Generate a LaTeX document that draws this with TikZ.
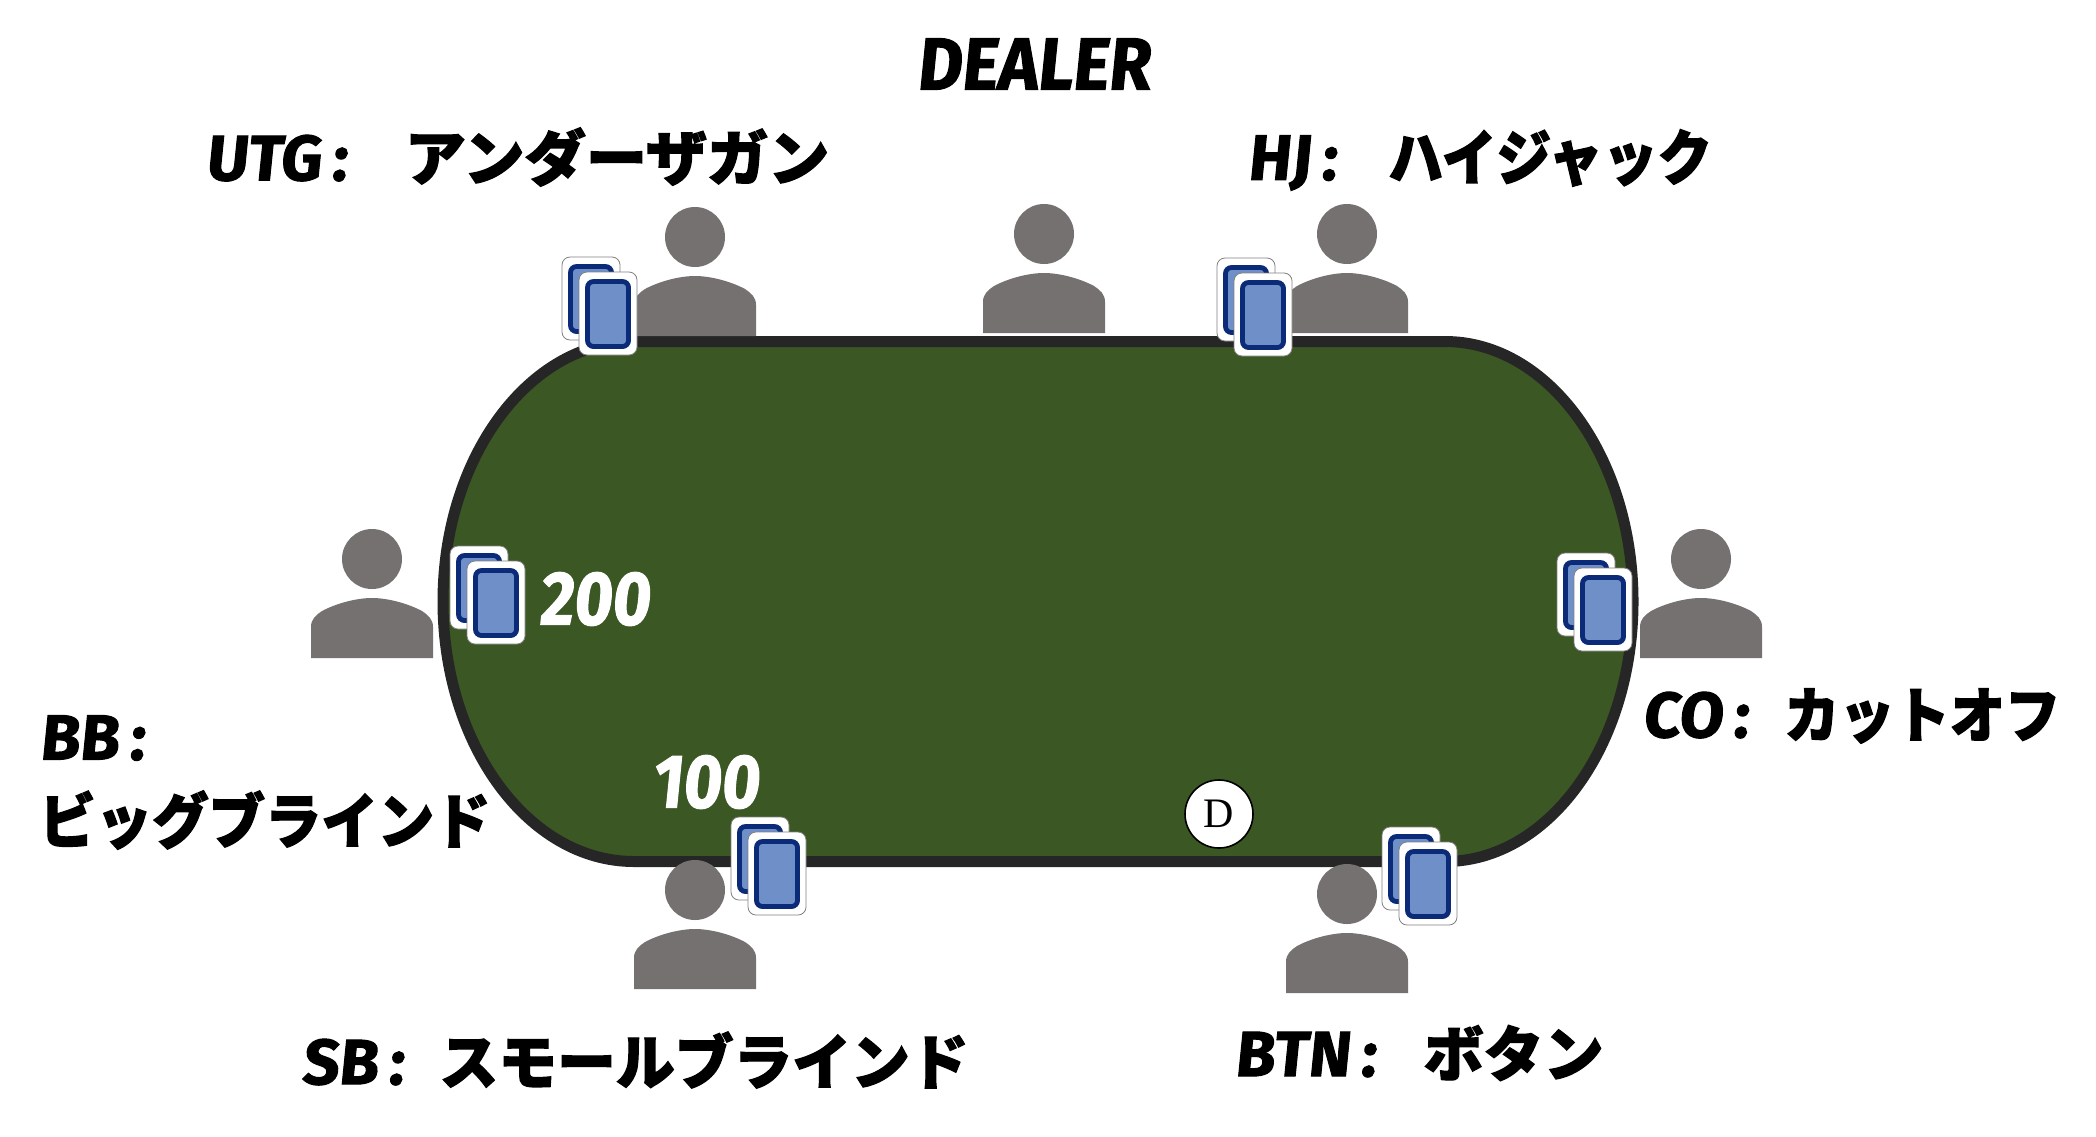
\documentclass[tikz,border=0pt]{standalone}
\usepackage{fontspec}
\setmainfont{Fira Sans}
\newfontfamily\latinfont[FakeSlant=0.1,FakeBold=1.5]{Fira Sans}
\newfontfamily\jpfont[FakeBold=2]{Noto Sans CJK JP}
\definecolor{feltgreen}{HTML}{3B5723}
\definecolor{railblack}{HTML}{262626}
\definecolor{playergray}{HTML}{757170}
\definecolor{cardblue}{HTML}{6F8FC8}
\definecolor{cardnavy}{HTML}{0B2A78}
% #1 stretch of the kana, #2 gap after the colon
\newcommand{\seatlabel}[4][1]{{\latinfont\bfseries\fontsize{32}{34}\selectfont #3\,:}\hspace{#2}{\jpfont\bfseries\addfontfeature{FakeStretch=#1}#4}}
\tikzset{
	player/.pic={
		\fill[playergray] (0,0) circle[radius=15pt];
		\fill[playergray] (-61,99) -- (-61,68) .. controls (-61,60) and (-56,56) .. (-50,52) .. controls (-35,44) and (-15,39) .. (0,39) .. controls (15,39) and (35,44) .. (50,52) .. controls (56,56) and (61,60) .. (61,68) -- (61,99) -- cycle;
	},
	onecard/.pic={
		\filldraw[fill=white,draw=gray,line width=.4pt,rounded corners=4pt] (0,0) rectangle (58,83);
		\filldraw[fill=cardblue,draw=cardnavy,line width=2.4pt,rounded corners=3pt] (8.5,9.5) rectangle (49.5,74.5);
	},
	cardpair/.pic={
		\pic at (-17,-15) {onecard};
		\pic at (0,0) {onecard};
	},
	seat/.style={anchor=west,inner sep=0pt,font=\fontsize{30}{34}\selectfont},
	betsize/.style={anchor=center,inner sep=0pt,white,font=\latinfont\bfseries\addfontfeature{FakeStretch=.86}\fontsize{38}{38}\selectfont}
}
\begin{document}
\begin{tikzpicture}[x=.5pt,y=-.5pt]
	\useasboundingbox (0,0) rectangle (2096,1136);

	% table
	\filldraw[fill=feltgreen,draw=railblack,line width=5.5pt] (634,341.5) -- (1445,341.5) arc[start angle=90,end angle=-90,x radius=94pt,y radius=130pt] -- (634,861.5) arc[start angle=270,end angle=90,x radius=95.5pt,y radius=130pt] -- cycle;

	% players
	\foreach \px/\py in {695/237, 1044/234, 1347/234, 1701/559, 1347/894, 695/890, 372/559}
		\pic at (\px,\py) {player};

	% cards
	\foreach \px/\py in {579/272, 1234/273, 467/561, 1574/568, 1399/842, 748/832}
		\pic at (\px,\py) {cardpair};

	% dealer button
	\node[circle,draw=black,fill=white,line width=.8pt,minimum size=34pt,inner sep=0pt,font=\fontspec{Liberation Serif}\fontsize{21}{21}\selectfont] (button) at (1219,814) {\raisebox{-1.5pt}{D}};

	% bets
	\node[betsize] (bigbet) at (594,599) {200};
	\node[betsize] (smallbet) at (705,782) {100};

	% labels
	\node[anchor=center,inner sep=0pt,font=\latinfont\bfseries\addfontfeature{FakeStretch=.92}\fontsize{37}{37}\selectfont] (dealer) at (1033,64) {DEALER};
	\node[seat] (utg) at (205,157) {\seatlabel[1.02]{29pt}{UTG}{アンダーザガン}};
	\node[seat] (hj) at (1247,160) {\seatlabel[.91]{26pt}{HJ}{ハイジャック}};
	\node[seat] (co) at (1642,716) {\seatlabel[.92]{18pt}{CO}{カットオフ}};
	\node[seat] (btn) at (1234,1053) {\seatlabel{24pt}{BTN}{ボタン}};
	\node[seat] (sb) at (301,1060) {\seatlabel[.98]{18pt}{SB}{スモールブラインド}};
	\node[seat] (bb) at (39,738) {{\latinfont\bfseries\fontsize{32}{34}\selectfont BB\,:}};
	\node[seat] (bbname) at (39,820) {{\jpfont\bfseries\addfontfeature{FakeStretch=.94}ビッグブラインド}};
\end{tikzpicture}
\end{document}
